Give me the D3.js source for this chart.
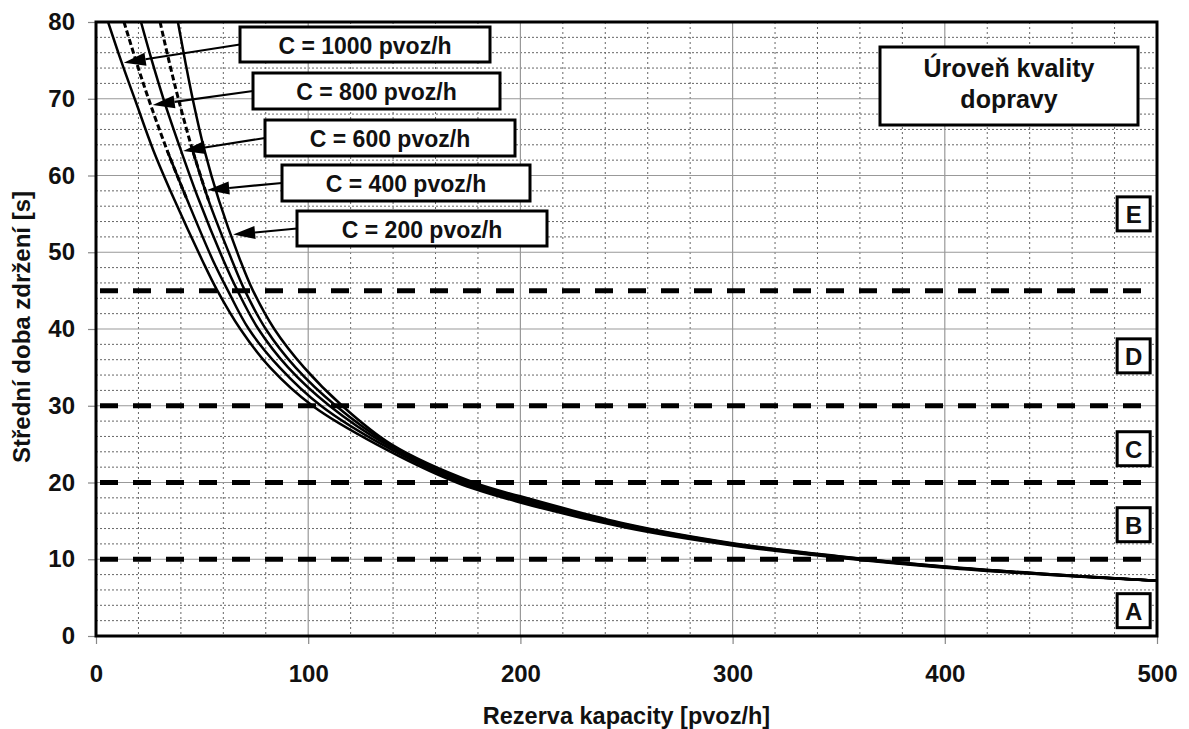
<!DOCTYPE html>
<html>
<head>
<meta charset="utf-8">
<script src="https://cdn.jsdelivr.net/npm/d3@7"></script>
<style>
  html, body { margin: 0; padding: 0; background: #fff; }
  svg { display: block; font-family: "Liberation Sans", Arial, sans-serif; }
</style>
</head>
<body>
<svg id="chart" width="1189" height="729"></svg>
<script>
// ---------------- DATA ----------------
const capacities = [1000, 800, 600, 400, 200];
const capacityLabels = ["C = 1000 pvoz/h", "C = 800 pvoz/h", "C = 600 pvoz/h", "C = 400 pvoz/h", "C = 200 pvoz/h"];

// [reserve capacity (pvoz/h), mean delay (s)]
const curveC1000 = [[5.7,80],[12,74.8],[18.5,69.8],[27,63.3],[37,56.8],[50,49],[57,45.1],[68,40],[82,35],[102,30],[132,25],[170,20],[200,17.4],[250,14.1],[300,11.8],[350,10.2],[400,8.9],[450,7.95],[500,7.2]];
const curveC800  = [[13.2,80],[19,74.8],[25,69.8],[33.5,63.3],[43,56.8],[55,49],[62,45.1],[72,40],[86.5,35],[106,30],[134.5,25],[172,20],[200,17.6],[250,14.25],[300,11.9],[350,10.25],[400,8.95],[450,7.98],[500,7.2]];
const curveC600  = [[21.2,80],[26.5,74.8],[32,69.8],[40,63.3],[48.5,56.8],[60,49],[66.5,45.1],[76.5,40],[90.5,35],[110,30],[136.5,25],[174,20],[200,17.8],[250,14.4],[300,11.97],[350,10.3],[400,8.98],[450,8.0],[500,7.2]];
const curveC400  = [[30.2,80],[34.5,74.8],[39,69.8],[45.5,63.3],[53,56.8],[64,49],[70,45.1],[80,40],[94,35],[113,30],[138,25],[176,20],[200,18.0],[250,14.5],[300,12.03],[350,10.35],[400,9.02],[450,8.03],[500,7.2]];
const curveC200  = [[38.6,80],[42.1,74.8],[45.7,69.8],[51.1,63.3],[57.9,56.8],[67.9,49],[73.8,45.1],[84,40],[98,35],[116,30],[139,25],[178,20],[200,18.2],[250,14.6],[300,12.1],[350,10.4],[400,9.05],[450,8.05],[500,7.2]];
const curves = [curveC1000, curveC800, curveC600, curveC400, curveC200];

// delay at which each label arrow touches its curve
const arrowDelay = [74.7, 69.2, 63.2, 58.1, 52.3];

// level-of-service thresholds and letters
const losThresholds = [10, 20, 30, 45];
const losLetters = ["A", "B", "C", "D", "E"];
const losLetterDelay = [3.3, 14.5, 24.4, 36.5, 55];

const xTicks = [0, 100, 200, 300, 400, 500];
const yTicks = [0, 10, 20, 30, 40, 50, 60, 70, 80];

const xTitle = "Rezerva kapacity [pvoz/h]";
const yTitle = "Střední doba zdržení [s]";
const legendLines = ["Úroveň kvality", "dopravy"];

// ---------------- LAYOUT ----------------
const L = 96, R = 1157, T = 22, B = 636;
const svg = d3.select("#chart");
const x = d3.scaleLinear().domain([0, 500]).range([L, R]);
const y = d3.scaleLinear().domain([0, 80]).range([B, T]);

// grid
const g = svg.append("g");
const minorY = d3.range(2, 80, 2).filter(v => v % 10 !== 0);
const majorY = d3.range(10, 80, 10);
const minorX = d3.range(20, 500, 20).filter(v => v % 100 !== 0);
const majorX = d3.range(100, 500, 100);

g.selectAll(".minY").data(minorY).join("line")
  .attr("x1", L).attr("x2", R).attr("y1", d => y(d)).attr("y2", d => y(d))
  .attr("stroke", "#666").attr("stroke-width", 1).attr("stroke-dasharray", "2,2");
g.selectAll(".minX").data(minorX).join("line")
  .attr("y1", T).attr("y2", B).attr("x1", d => x(d)).attr("x2", d => x(d))
  .attr("stroke", "#666").attr("stroke-width", 1).attr("stroke-dasharray", "2,3");
g.selectAll(".majY").data(majorY).join("line")
  .attr("x1", L).attr("x2", R).attr("y1", d => y(d)).attr("y2", d => y(d))
  .attr("stroke", "#999").attr("stroke-width", 1.2);
g.selectAll(".majX").data(majorX).join("line")
  .attr("y1", T).attr("y2", B).attr("x1", d => x(d)).attr("x2", d => x(d))
  .attr("stroke", "#999").attr("stroke-width", 1.2);

// axes
const yAxis = d3.axisLeft(y).tickValues(yTicks).tickSize(8).tickPadding(13);
const xAxis = d3.axisBottom(x).tickValues(xTicks).tickSize(8).tickPadding(21);
const ya = svg.append("g").attr("transform", `translate(${L},0)`).call(yAxis);
const xa = svg.append("g").attr("transform", `translate(0,${B})`).call(xAxis);
[ya, xa].forEach(a => {
  a.select(".domain").remove();
  a.selectAll("line").attr("stroke", "#888").attr("stroke-width", 1.2);
  a.selectAll("text").attr("font-size", 24).attr("font-weight", "bold")
   .attr("fill", "#111").attr("font-family", "'Liberation Sans', Arial, sans-serif");
});

// LOS threshold dashed lines
svg.append("g").selectAll("line").data(losThresholds).join("line")
  .attr("x1", L).attr("x2", R).attr("y1", d => y(d)).attr("y2", d => y(d))
  .attr("stroke", "#000").attr("stroke-width", 5)
  .attr("stroke-dasharray", "18,15").attr("stroke-dashoffset", -4);

// clip
svg.append("clipPath").attr("id", "plotclip").append("rect")
  .attr("x", L).attr("y", T).attr("width", R - L).attr("height", B - T);

// curves
const line = d3.line().x(d => x(d[0])).y(d => y(d[1])).curve(d3.curveCatmullRom.alpha(0.5));
const cg = svg.append("g").attr("clip-path", "url(#plotclip)");
const dashedTop = [false, true, false, true, false];
curves.forEach((c, i) => {
  if (dashedTop[i]) {
    cg.append("path").datum(c.slice(0, 5)).attr("d", line)
      .attr("fill", "none").attr("stroke", "#000").attr("stroke-width", 3)
      .attr("stroke-dasharray", "6,3");
    cg.append("path").datum(c.slice(3)).attr("d", line)
      .attr("fill", "none").attr("stroke", "#000").attr("stroke-width", 2.5);
  } else {
    cg.append("path").datum(c).attr("d", line)
      .attr("fill", "none").attr("stroke", "#000").attr("stroke-width", 2.5);
  }
});

// frame
svg.append("rect").attr("x", L).attr("y", T).attr("width", R - L).attr("height", B - T)
  .attr("fill", "none").attr("stroke", "#000").attr("stroke-width", 3);

// capacity labels with arrows
const labelBoxes = [
  {x: 240, y: 27, w: 250, h: 35},
  {x: 253, y: 73, w: 247, h: 36},
  {x: 265, y: 120, w: 250, h: 36},
  {x: 282, y: 165, w: 248, h: 36},
  {x: 297, y: 211, w: 250, h: 35}
];
function reserveAtDelay(c, d) {
  for (let k = 0; k < c.length - 1; k++) {
    const a = c[k], b = c[k + 1];
    if ((a[1] - d) * (b[1] - d) <= 0) {
      const t = (a[1] - d) / (a[1] - b[1]);
      return a[0] + t * (b[0] - a[0]);
    }
  }
  return c[0][0];
}
const ag = svg.append("g");
capacities.forEach((cap, i) => {
  const bx = labelBoxes[i];
  const sx = bx.x, sy = bx.y + bx.h / 2;
  const tx = x(reserveAtDelay(curves[i], arrowDelay[i])) + 2, ty = y(arrowDelay[i]);
  const ang = Math.atan2(ty - sy, tx - sx);
  const hl = 22, hw = 6.5;
  const bxp = tx - hl * Math.cos(ang), byp = ty - hl * Math.sin(ang);
  ag.append("line").attr("x1", sx).attr("y1", sy).attr("x2", bxp).attr("y2", byp)
    .attr("stroke", "#000").attr("stroke-width", 2.2);
  const px = -Math.sin(ang), py = Math.cos(ang);
  ag.append("polygon")
    .attr("points", [[tx, ty], [bxp + px * hw, byp + py * hw], [bxp - px * hw, byp - py * hw]].map(p => p.join(",")).join(" "))
    .attr("fill", "#000");
  ag.append("rect").attr("x", bx.x).attr("y", bx.y).attr("width", bx.w).attr("height", bx.h)
    .attr("fill", "#fff").attr("stroke", "#000").attr("stroke-width", 3);
  ag.append("text").attr("x", bx.x + bx.w / 2).attr("y", bx.y + bx.h / 2 + 1)
    .attr("text-anchor", "middle").attr("dominant-baseline", "central")
    .attr("font-size", 23).attr("font-weight", "bold").attr("fill", "#111")
    .text(capacityLabels[i]);
});

// legend box
const lg = svg.append("g");
lg.append("rect").attr("x", 880).attr("y", 47).attr("width", 258).attr("height", 78)
  .attr("fill", "#fff").attr("stroke", "#000").attr("stroke-width", 3);
legendLines.forEach((t, i) => {
  lg.append("text").attr("x", 1009).attr("y", 77 + i * 31)
    .attr("text-anchor", "middle").attr("font-size", 25).attr("font-weight", "bold")
    .attr("fill", "#111").text(t);
});

// LOS letters
const lt = svg.append("g");
losLetters.forEach((t, i) => {
  const cx = x(489), cy = y(losLetterDelay[i]);
  lt.append("rect").attr("x", cx - 16.5).attr("y", cy - 17).attr("width", 33).attr("height", 34)
    .attr("fill", "#fff").attr("stroke", "#000").attr("stroke-width", 3);
  lt.append("text").attr("x", cx).attr("y", cy + 1).attr("text-anchor", "middle")
    .attr("dominant-baseline", "central").attr("font-size", 24).attr("font-weight", "bold")
    .attr("fill", "#111").text(t);
});

// axis titles
svg.append("text").attr("x", (L + R) / 2).attr("y", 716).attr("text-anchor", "middle")
  .attr("dominant-baseline", "central").attr("font-size", 23.5).attr("font-weight", "bold")
  .attr("fill", "#111").text(xTitle);
svg.append("text").attr("transform", `translate(21,${(T + B) / 2 - 2}) rotate(-90)`)
  .attr("text-anchor", "middle").attr("dominant-baseline", "central")
  .attr("font-size", 24).attr("font-weight", "bold").attr("fill", "#111").text(yTitle);
</script>
</body>
</html>
